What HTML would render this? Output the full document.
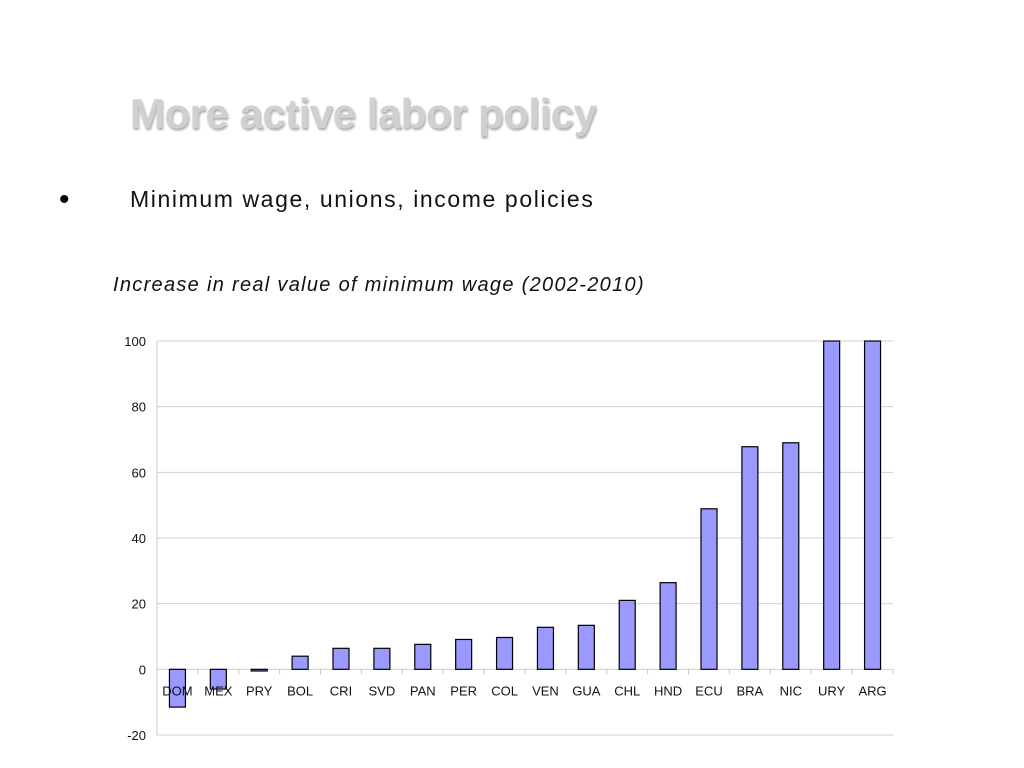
<!DOCTYPE html>
<html><head><meta charset="utf-8"><style>
body{margin:0;width:1024px;height:768px;background:#fff;overflow:hidden;position:relative;font-family:"Liberation Sans",sans-serif}
.t{position:absolute;white-space:nowrap}
</style></head><body>
<div class="t" style="left:130px;top:90px;font-size:42px;font-weight:bold;color:#d0d0d0;letter-spacing:-0.5px;text-shadow:1px 2px 2px #aaa">More active labor policy</div>
<div class="t" style="left:59px;top:183px;font-size:30px">•</div>
<div class="t" style="left:130px;top:186px;font-size:23px;letter-spacing:1.6px;color:#111">Minimum wage, unions, income policies</div>
<div class="t" style="left:113px;top:274px;font-size:20px;font-style:italic;letter-spacing:1.3px;color:#111">Increase in real value of minimum wage (2002-2010)</div>
<svg id="c" width="1024" height="768" style="position:absolute;left:0;top:0"></svg>
<script>
const categories=["DOM","MEX","PRY","BOL","CRI","SVD","PAN","PER","COL","VEN","GUA","CHL","HND","ECU","BRA","NIC","URY","ARG"];
const values=[-11.5,-6,-0.5,4,6.4,6.4,7.6,9.1,9.7,12.8,13.4,21,26.4,48.9,67.8,69,100,100];
const yTicks=[-20,0,20,40,60,80,100];
const svg=document.getElementById('c');const NS='http://www.w3.org/2000/svg';
const x0=157,x1=893,yTop=341,yBot=735,vMin=-20,vMax=100;
const y=v=>yBot-(v-vMin)/(vMax-vMin)*(yBot-yTop);
const bw=(x1-x0)/categories.length;
const xc=i=>x0+bw*(i+0.5);
function mk(t,a){const e=document.createElementNS(NS,t);for(const k in a)e.setAttribute(k,a[k]);svg.appendChild(e);return e;}
yTicks.forEach(v=>{
 const g=mk('line',{x1:x0,x2:x1,y1:y(v),y2:y(v),stroke:'#d0d0d0','stroke-width':1});
 
 
 const tx=mk('text',{x:146,y:y(v)+5,'text-anchor':'end','font-size':13,fill:'#111','font-family':'Liberation Sans'});
 tx.textContent=v;
 
 
});
const ax=mk('line',{x1:x0,x2:x0,y1:yTop,y2:yBot,stroke:'#c8c8c8'});


for(let i=0;i<=categories.length;i++){
 const tk=mk('line',{x1:x0+bw*i,x2:x0+bw*i,y1:y(0),y2:y(0)+5,stroke:'#c8c8c8'});
 
 
}
values.forEach((v,i)=>{
 const top=Math.min(y(v),y(0)),h=Math.max(Math.abs(y(v)-y(0)),1);
 const r=mk('rect',{x:xc(i)-8,y:top,width:16,height:h,fill:'#9999ff',stroke:'#000','stroke-width':1.2});
 
 
});
categories.forEach((c,i)=>{
 const tx=mk('text',{x:xc(i),y:y(0)+26,'text-anchor':'middle','font-size':13,fill:'#111','font-family':'Liberation Sans'});
 tx.textContent=c;
 
 
});
</script>
</body></html>
